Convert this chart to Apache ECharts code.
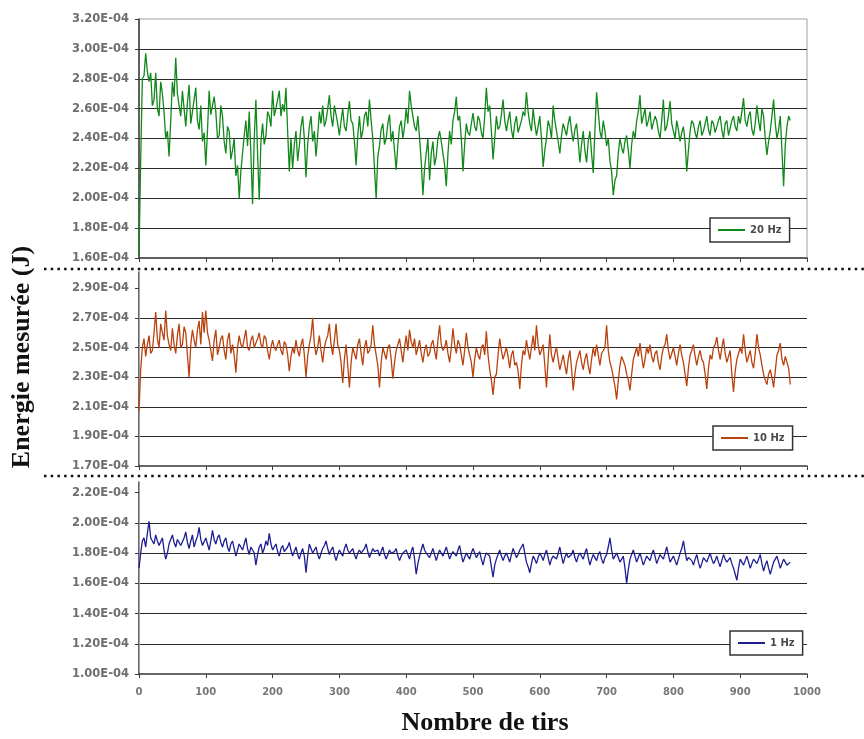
<!DOCTYPE html>
<html><head><meta charset="utf-8">
<script src="https://cdn.jsdelivr.net/npm/echarts@6/dist/echarts.min.js"></script>
<style>html,body{margin:0;padding:0;background:#fff}#c{width:864px;height:739px}</style>
</head><body><div id="c"></div>
<script>
// Readings every STEP shots, energies in units of 1E-04 J
const STEP = 2.5;
const seriesNames = ['20 Hz', '10 Hz', '1 Hz'];
const hz20 = [
1.62,2.25,2.80,2.82,2.97,2.85,2.78,2.84,2.62,2.66,2.84,2.60,2.55,2.78,2.70,2.58,2.40,2.45,2.28,2.52,
2.78,2.68,2.94,2.70,2.62,2.55,2.72,2.60,2.48,2.64,2.76,2.50,2.58,2.66,2.74,2.52,2.46,2.62,2.38,2.44,
2.22,2.45,2.72,2.56,2.62,2.68,2.58,2.40,2.42,2.62,2.55,2.38,2.30,2.48,2.45,2.26,2.32,2.40,2.15,2.22,
2.00,2.18,2.30,2.42,2.52,2.35,2.58,2.30,1.96,2.40,2.66,2.30,1.99,2.38,2.50,2.36,2.42,2.58,2.55,2.48,
2.72,2.55,2.60,2.66,2.72,2.55,2.63,2.58,2.74,2.45,2.18,2.40,2.20,2.36,2.45,2.25,2.35,2.48,2.55,2.40,
2.14,2.36,2.48,2.55,2.38,2.45,2.28,2.42,2.58,2.50,2.62,2.48,2.52,2.60,2.69,2.55,2.48,2.62,2.56,2.50,
2.42,2.52,2.60,2.48,2.45,2.56,2.65,2.52,2.50,2.38,2.22,2.42,2.55,2.40,2.45,2.55,2.58,2.48,2.66,2.52,
2.40,2.20,2.00,2.28,2.35,2.46,2.50,2.36,2.40,2.50,2.56,2.38,2.45,2.32,2.19,2.36,2.48,2.52,2.40,2.48,
2.60,2.50,2.72,2.62,2.55,2.48,2.45,2.55,2.40,2.25,2.02,2.20,2.30,2.40,2.12,2.30,2.38,2.22,2.28,2.40,
2.45,2.38,2.30,2.22,2.08,2.30,2.45,2.36,2.52,2.58,2.68,2.52,2.55,2.40,2.18,2.36,2.50,2.44,2.42,2.50,
2.57,2.48,2.45,2.55,2.52,2.44,2.40,2.55,2.74,2.58,2.62,2.45,2.26,2.40,2.55,2.46,2.48,2.56,2.66,2.52,
2.45,2.52,2.58,2.46,2.40,2.50,2.55,2.44,2.48,2.52,2.58,2.55,2.71,2.58,2.50,2.45,2.60,2.50,2.42,2.48,
2.55,2.40,2.21,2.32,2.40,2.52,2.48,2.40,2.62,2.52,2.45,2.38,2.30,2.42,2.50,2.46,2.42,2.50,2.55,2.45,
2.38,2.46,2.50,2.38,2.24,2.36,2.45,2.32,2.24,2.38,2.45,2.30,2.17,2.45,2.71,2.58,2.45,2.40,2.52,2.45,
2.35,2.40,2.25,2.18,2.02,2.12,2.15,2.30,2.40,2.34,2.30,2.38,2.42,2.32,2.20,2.36,2.45,2.40,2.52,2.58,
2.69,2.50,2.55,2.60,2.48,2.52,2.58,2.46,2.45,2.55,2.52,2.45,2.40,2.52,2.66,2.45,2.48,2.55,2.65,2.50,
2.45,2.40,2.52,2.46,2.38,2.44,2.48,2.38,2.18,2.32,2.45,2.52,2.50,2.44,2.40,2.48,2.52,2.42,2.45,2.50,
2.55,2.46,2.42,2.52,2.50,2.44,2.48,2.52,2.55,2.46,2.40,2.50,2.52,2.42,2.47,2.52,2.55,2.48,2.45,2.55,
2.50,2.58,2.67,2.52,2.48,2.55,2.58,2.46,2.42,2.50,2.62,2.52,2.45,2.60,2.55,2.40,2.29,2.38,2.45,2.55,
2.66,2.50,2.40,2.46,2.55,2.32,2.08,2.36,2.48,2.55,2.52
];
const hz10 = [
2.07,2.35,2.50,2.56,2.44,2.52,2.58,2.46,2.48,2.60,2.74,2.56,2.50,2.66,2.60,2.55,2.75,2.58,2.52,2.48,
2.63,2.52,2.46,2.58,2.66,2.50,2.52,2.64,2.60,2.45,2.30,2.52,2.62,2.55,2.50,2.62,2.68,2.52,2.74,2.60,
2.75,2.60,2.55,2.48,2.41,2.55,2.62,2.45,2.50,2.56,2.58,2.48,2.42,2.55,2.60,2.46,2.52,2.45,2.33,2.50,
2.58,2.52,2.50,2.56,2.62,2.50,2.48,2.55,2.58,2.50,2.53,2.56,2.60,2.52,2.50,2.58,2.56,2.48,2.42,2.50,
2.55,2.50,2.48,2.52,2.55,2.48,2.45,2.54,2.52,2.45,2.34,2.44,2.50,2.46,2.55,2.48,2.44,2.52,2.56,2.45,
2.30,2.44,2.52,2.58,2.70,2.52,2.45,2.50,2.58,2.48,2.40,2.50,2.55,2.58,2.66,2.52,2.45,2.55,2.66,2.52,
2.48,2.40,2.26,2.42,2.52,2.38,2.23,2.40,2.50,2.46,2.42,2.52,2.56,2.46,2.38,2.50,2.55,2.46,2.48,2.52,
2.65,2.52,2.45,2.38,2.23,2.40,2.50,2.46,2.42,2.50,2.52,2.42,2.29,2.40,2.48,2.52,2.56,2.48,2.40,2.50,
2.58,2.48,2.62,2.54,2.50,2.56,2.45,2.50,2.55,2.46,2.40,2.48,2.52,2.44,2.46,2.52,2.55,2.48,2.42,2.55,
2.65,2.52,2.48,2.50,2.55,2.46,2.40,2.50,2.63,2.52,2.46,2.55,2.52,2.45,2.38,2.48,2.60,2.50,2.45,2.40,
2.30,2.42,2.50,2.45,2.42,2.50,2.52,2.45,2.61,2.45,2.35,2.28,2.18,2.30,2.32,2.45,2.56,2.48,2.42,2.46,
2.50,2.44,2.36,2.45,2.48,2.38,2.40,2.34,2.22,2.38,2.48,2.45,2.55,2.48,2.42,2.50,2.58,2.48,2.65,2.52,
2.45,2.48,2.52,2.38,2.23,2.42,2.59,2.45,2.40,2.46,2.50,2.42,2.35,2.40,2.45,2.38,2.32,2.42,2.48,2.36,
2.21,2.32,2.40,2.44,2.48,2.40,2.35,2.42,2.46,2.38,2.32,2.42,2.50,2.44,2.52,2.45,2.38,2.46,2.45,2.50,
2.65,2.48,2.40,2.36,2.30,2.24,2.15,2.28,2.38,2.44,2.45,2.38,2.32,2.28,2.21,2.32,2.42,2.46,2.50,2.44,
2.53,2.44,2.36,2.42,2.50,2.46,2.52,2.44,2.40,2.46,2.48,2.40,2.35,2.44,2.50,2.52,2.59,2.48,2.42,2.46,
2.50,2.44,2.38,2.46,2.52,2.45,2.40,2.32,2.24,2.36,2.45,2.48,2.52,2.44,2.38,2.44,2.48,2.42,2.40,2.32,
2.22,2.36,2.45,2.42,2.50,2.52,2.57,2.48,2.42,2.50,2.56,2.46,2.40,2.44,2.48,2.32,2.20,2.34,2.42,2.46,
2.50,2.46,2.59,2.48,2.40,2.44,2.48,2.40,2.36,2.46,2.59,2.50,2.45,2.38,2.32,2.28,2.25,2.32,2.35,2.30,
2.23,2.34,2.45,2.48,2.53,2.42,2.38,2.44,2.45,2.36,2.25
];
const hz1 = [
1.70,1.80,1.88,1.90,1.84,1.93,2.01,1.90,1.88,1.86,1.92,1.88,1.85,1.84,1.90,1.82,1.76,1.80,1.86,1.89,
1.92,1.87,1.84,1.89,1.90,1.85,1.86,1.90,1.94,1.87,1.83,1.88,1.92,1.84,1.88,1.91,1.97,1.89,1.85,1.86,
1.90,1.86,1.82,1.88,1.95,1.89,1.86,1.90,1.92,1.87,1.84,1.88,1.90,1.84,1.81,1.86,1.88,1.83,1.78,1.82,
1.86,1.84,1.82,1.86,1.90,1.83,1.79,1.84,1.85,1.80,1.72,1.79,1.84,1.86,1.80,1.83,1.88,1.85,1.93,1.86,
1.82,1.84,1.86,1.81,1.78,1.83,1.85,1.81,1.80,1.84,1.87,1.82,1.78,1.81,1.84,1.79,1.76,1.80,1.83,1.78,
1.67,1.78,1.86,1.83,1.80,1.82,1.84,1.79,1.76,1.80,1.83,1.85,1.88,1.83,1.79,1.82,1.84,1.79,1.75,1.79,
1.82,1.80,1.78,1.83,1.86,1.82,1.80,1.81,1.83,1.79,1.76,1.80,1.82,1.80,1.79,1.83,1.86,1.81,1.77,1.80,
1.83,1.81,1.80,1.82,1.78,1.81,1.84,1.79,1.76,1.79,1.82,1.80,1.79,1.81,1.83,1.78,1.75,1.78,1.80,1.80,
1.82,1.79,1.76,1.81,1.84,1.76,1.66,1.73,1.78,1.82,1.86,1.82,1.80,1.79,1.77,1.80,1.83,1.79,1.75,1.79,
1.82,1.80,1.78,1.81,1.84,1.80,1.76,1.79,1.81,1.80,1.78,1.82,1.85,1.79,1.74,1.77,1.80,1.78,1.76,1.80,
1.83,1.80,1.77,1.79,1.81,1.76,1.72,1.77,1.80,1.80,1.78,1.71,1.64,1.72,1.76,1.79,1.82,1.78,1.75,1.78,
1.80,1.77,1.74,1.79,1.83,1.80,1.77,1.79,1.82,1.83,1.86,1.80,1.74,1.71,1.67,1.73,1.78,1.76,1.73,1.77,
1.80,1.78,1.75,1.79,1.82,1.77,1.72,1.76,1.78,1.79,1.76,1.80,1.84,1.78,1.73,1.77,1.80,1.77,1.76,1.79,
1.82,1.77,1.74,1.78,1.80,1.79,1.76,1.80,1.83,1.77,1.72,1.76,1.79,1.78,1.75,1.79,1.81,1.76,1.73,1.77,
1.79,1.84,1.90,1.82,1.76,1.78,1.80,1.77,1.74,1.76,1.78,1.70,1.60,1.69,1.76,1.79,1.82,1.78,1.74,1.77,
1.80,1.76,1.72,1.75,1.78,1.77,1.75,1.79,1.82,1.78,1.73,1.76,1.79,1.78,1.76,1.80,1.84,1.79,1.74,1.76,
1.78,1.75,1.72,1.76,1.80,1.83,1.88,1.81,1.75,1.77,1.78,1.75,1.72,1.76,1.79,1.74,1.70,1.73,1.77,1.76,
1.74,1.77,1.80,1.76,1.73,1.75,1.78,1.74,1.71,1.75,1.79,1.76,1.74,1.75,1.77,1.73,1.70,1.66,1.62,1.70,
1.76,1.74,1.72,1.75,1.78,1.74,1.70,1.73,1.76,1.75,1.73,1.76,1.79,1.73,1.68,1.72,1.75,1.70,1.66,1.70,
1.74,1.76,1.78,1.74,1.70,1.73,1.76,1.74,1.72,1.73,1.74
];
const yTicks20 = [1.6, 1.8, 2.0, 2.2, 2.4, 2.6, 2.8, 3.0, 3.2];
const yTicks10 = [1.7, 1.9, 2.1, 2.3, 2.5, 2.7, 2.9];
const yTicks1  = [1.0, 1.2, 1.4, 1.6, 1.8, 2.0, 2.2];
const xTicks = [0, 100, 200, 300, 400, 500, 600, 700, 800, 900, 1000];
const titleY = 'Energie mesurée (J)';
const titleX = 'Nombre de tirs';

const toPairs = arr => arr.map((v, i) => [i * STEP, v]);
const fmt = v => v.toFixed(2) + 'E-04';

const grids = [
  {left: 139, width: 668, top: 19, height: 239, show: true, borderColor: '#a0a0a0', borderWidth: 1},
  {left: 139, width: 668, top: 272, height: 194},
  {left: 139, width: 668, top: 482, height: 192}
];
const yRanges = [[1.6, 3.2], [1.7, 3.01], [1.0, 2.27]];
const yTickSets = [yTicks20, yTicks10, yTicks1];

const labelFont = {fontFamily: 'DejaVu Sans', fontWeight: 'bold', fontSize: 11.5, color: '#6e6e6e'};

const xAxes = grids.map((g, i) => ({
  type: 'value', gridIndex: i, min: xTicks[0], max: xTicks[xTicks.length - 1], interval: 100,
  axisLine: {show: true, lineStyle: {color: '#3a3a3a', width: 1.5}},
  axisTick: {show: true, inside: false, length: 4, lineStyle: {color: '#3a3a3a', width: 1}},
  axisLabel: i === 2 ? {show: true, margin: 13, formatter: v => String(v), fontFamily: 'DejaVu Sans', fontWeight: 'bold', fontSize: 10, color: '#777'} : {show: false},
  splitLine: {show: false}
}));

const yAxes = grids.map((g, i) => ({
  type: 'value', gridIndex: i, min: yRanges[i][0], max: yRanges[i][1],
  axisLine: {show: true, onZero: false, lineStyle: {color: '#3a3a3a', width: 1.5}},
  axisTick: {show: true, length: 4, customValues: yTickSets[i], lineStyle: {color: '#3a3a3a'}},
  axisLabel: Object.assign({show: true, margin: 10, customValues: yTickSets[i], formatter: fmt}, labelFont),
  splitLine: {show: true, showMinLine: false, showMaxLine: false, lineStyle: {color: '#2a2a2a', width: 1.2}}
}));
// right frame edges for middle and bottom panels
[1, 2].forEach(i => yAxes.push({
  type: 'value', gridIndex: i, position: 'right', min: yRanges[i][0], max: yRanges[i][1],
  axisLine: {show: true, lineStyle: {color: '#a0a0a0', width: 1}},
  axisTick: {show: false}, axisLabel: {show: false}, splitLine: {show: false}
}));

const colors = ['#11881a', '#b9420e', '#1e1e92'];
const datas = [hz20, hz10, hz1];
const series = datas.map((d, i) => ({
  name: seriesNames[i], type: 'line', xAxisIndex: i, yAxisIndex: i,
  data: toPairs(d), symbol: 'none', showSymbol: false, sampling: null,
  lineStyle: {color: colors[i], width: 1.3}, itemStyle: {color: colors[i]}
}));

const legendPos = [[710, 218], [713, 426], [730, 631]];
const legends = seriesNames.map((n, i) => ({
  data: [n], left: legendPos[i][0], top: legendPos[i][1], selectedMode: false,
  backgroundColor: '#fff', borderColor: '#333', borderWidth: 1.5, padding: [7, 8],
  itemWidth: 27, itemHeight: 2, icon: 'rect',
  textStyle: {fontFamily: 'DejaVu Sans', fontWeight: 'bold', fontSize: 10, color: '#4a4a4a'}
}));

const dotted = y => ({type: 'line', z: 100, shape: {x1: 44, y1: y, x2: 864, y2: y},
  style: {stroke: '#111', lineWidth: 2.5, lineDash: [2.5, 4.2]}});

const chart = echarts.init(document.getElementById('c'), null, {renderer: 'canvas'});
chart.setOption({
  animation: false,
  backgroundColor: '#fff',
  grid: grids,
  xAxis: xAxes,
  yAxis: yAxes,
  legend: legends,
  series: series,
  graphic: [
    dotted(269), dotted(476),
    {type: 'text', x: 22, y: 357, rotation: Math.PI / 2, z: 100,
     style: {text: titleY, font: 'bold 26px "Liberation Serif"', fill: '#111', align: 'center', verticalAlign: 'middle'}},
    {type: 'text', x: 485, y: 723, z: 100,
     style: {text: titleX, font: 'bold 26px "Liberation Serif"', fill: '#111', align: 'center', verticalAlign: 'middle'}}
  ]
});
</script></body></html>
